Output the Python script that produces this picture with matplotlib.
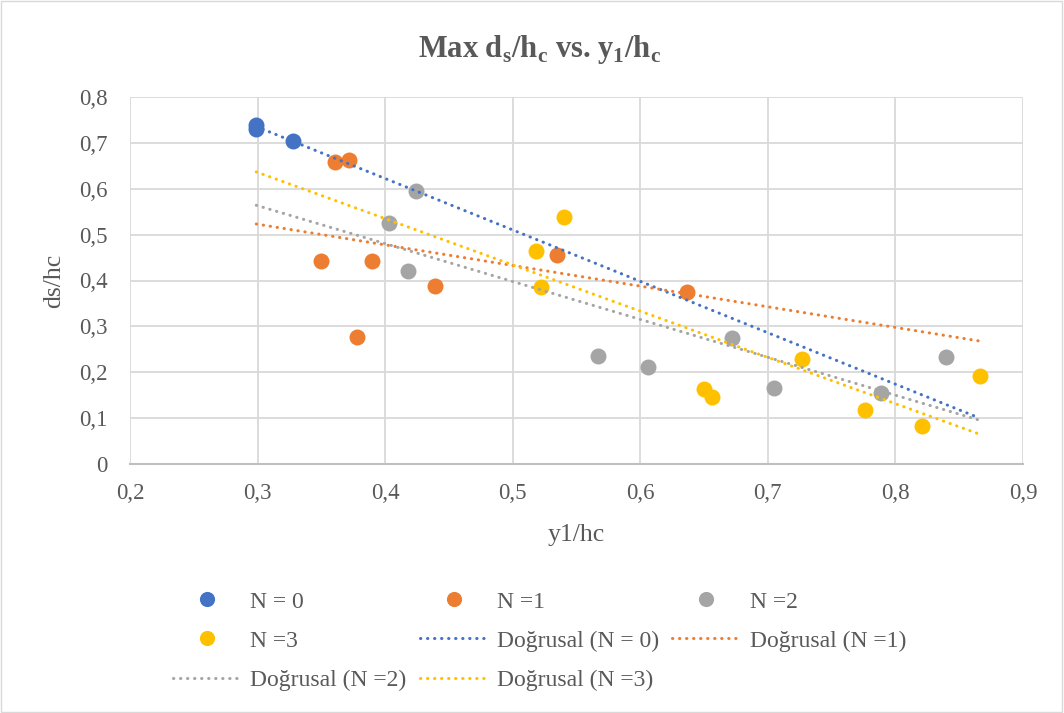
import numpy as np
import matplotlib
matplotlib.use("Agg")
import matplotlib.pyplot as plt
from matplotlib.ticker import FuncFormatter, MultipleLocator
from matplotlib.patches import Rectangle

plt.rcParams['font.family'] = ['Liberation Serif', 'DejaVu Serif']
plt.rcParams['mathtext.fontset'] = 'custom'
plt.rcParams['mathtext.rm'] = 'Liberation Serif'
plt.rcParams['mathtext.bf'] = 'Liberation Serif:bold'

# data
x_n0 = [0.299, 0.299, 0.328]
y_n0 = [0.740, 0.731, 0.703]
x_n1 = [0.3495, 0.361, 0.372, 0.378, 0.390, 0.439, 0.535, 0.637]
y_n1 = [0.443, 0.659, 0.663, 0.277, 0.443, 0.389, 0.455, 0.375]
x_n2 = [0.403, 0.418, 0.424, 0.567, 0.606, 0.672, 0.705, 0.789, 0.840]
y_n2 = [0.526, 0.420, 0.595, 0.236, 0.212, 0.275, 0.165, 0.154, 0.234]
x_n3 = [0.518, 0.522, 0.540, 0.650, 0.656, 0.727, 0.776, 0.821, 0.866]
y_n3 = [0.464, 0.385, 0.538, 0.163, 0.147, 0.228, 0.118, 0.083, 0.191]

names = ["N = 0", "N =1", "N =2", "N =3"]
colors = ["#4472C4", "#ED7D31", "#A5A5A5", "#FFC000"]
xs = [x_n0, x_n1, x_n2, x_n3]
ys = [y_n0, y_n1, y_n2, y_n3]

txt = "#595959"

fig = plt.figure(figsize=(10.64, 7.13), dpi=100)
ax = fig.add_axes([130/1064, 1-464/713, (1023-130)/1064, (464-97)/713])

x_lo = min(min(v) for v in xs)
x_hi = max(max(v) for v in xs)
xx = np.array([x_lo, x_hi])

pts = []
fits = []
for i in range(4):
    p, = ax.plot(xs[i], ys[i], 'o', ls='none', color=colors[i], ms=11.5,
                 mec='none', zorder=2, label=names[i])
    pts.append(p)
# linear trend lines (Excel "Doğrusal")
for i in range(4):
    k, b = np.polyfit(xs[i], ys[i], 1)
    l, = ax.plot(xx, k*xx + b, color=colors[i], lw=2.2, ls=(0, (0.1, 2.2)),
                 dash_capstyle='round', zorder=3,
                 label="Doğrusal (" + names[i] + ")")
    fits.append(l)

ax.set_xlim(0.2, 0.9)
ax.set_ylim(0, 0.8)
ax.xaxis.set_major_locator(MultipleLocator(0.1))
ax.yaxis.set_major_locator(MultipleLocator(0.1))
fmt = FuncFormatter(lambda v, p: "0" if abs(v) < 1e-9 else ("%.1f" % v).replace('.', ','))
ax.xaxis.set_major_formatter(fmt)
ax.yaxis.set_major_formatter(fmt)
ax.grid(True, color="#d9d9d9", lw=1.3, zorder=0)
ax.set_axisbelow(True)
for s in ['left', 'right', 'top']:
    ax.spines[s].set_visible(False)
ax.spines['bottom'].set_color("#bfbfbf")
ax.spines['bottom'].set_linewidth(1.5)
ax.tick_params(length=0, labelsize=16.5, labelcolor=txt)
ax.tick_params(axis='y', pad=16)
ax.tick_params(axis='x', pad=14)

ax.set_xlabel("y1/hc", fontsize=18.5, color=txt, labelpad=14)
ax.set_ylabel("ds/hc", fontsize=18.5, color=txt, labelpad=10)
fig.text(540/1064, 1-50/713,
         r"Max d$_\mathbf{s}$/h$_\mathbf{c}$ vs. y$_\mathbf{1}$/h$_\mathbf{c}$",
         ha='center', va='center', fontsize=22, fontweight='bold', color=txt)

# legend is filled column by column, so reorder to get Excel's row order
h = [pts[0], pts[3], fits[2], pts[1], fits[0], fits[3], pts[2], fits[1]]
leg = fig.legend(handles=h, labels=[x.get_label() for x in h], ncol=3,
                 loc='upper left', bbox_to_anchor=(173/1064, 1-591/713),
                 frameon=False, fontsize=17, handlelength=2.9, handletextpad=0.38,
                 columnspacing=0.55, labelspacing=0.75, borderpad=0,
                 borderaxespad=0, numpoints=1, markerscale=0.95)
for t in leg.get_texts():
    t.set_color(txt)

fig.patches.append(Rectangle((0.001, 0.001), 0.997, 0.997, transform=fig.transFigure,
                             fill=False, ec="#d9d9d9", lw=1))

fig.savefig("out.png", dpi=100)
